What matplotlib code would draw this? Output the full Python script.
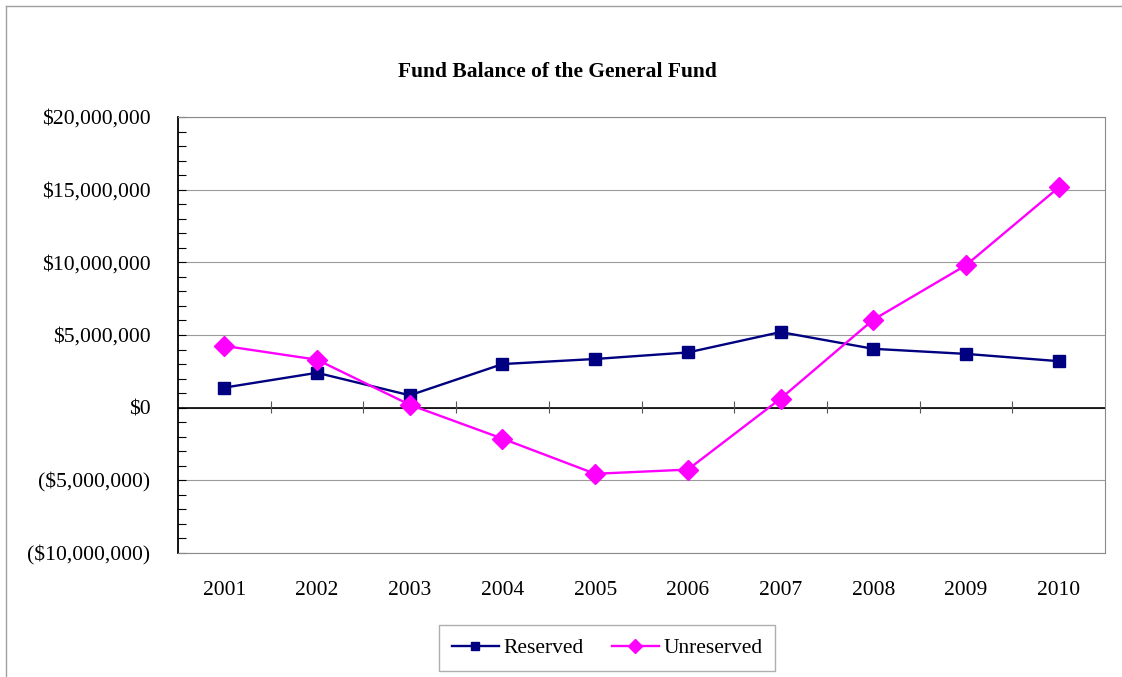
import numpy as np
import matplotlib
matplotlib.use('Agg')
from matplotlib import pyplot as plt
from matplotlib.lines import Line2D
from matplotlib.ticker import FuncFormatter, MultipleLocator

years = ['2001', '2002', '2003', '2004', '2005', '2006', '2007', '2008', '2009', '2010']
reserved = [1.38e6, 2.40e6, 0.85e6, 3.00e6, 3.35e6, 3.80e6, 5.20e6, 4.05e6, 3.70e6, 3.20e6]
unreserved = [4.25e6, 3.30e6, 0.20e6, -2.13e6, -4.55e6, -4.26e6, 0.62e6, 6.05e6, 9.80e6, 15.15e6]
y_ticks = [-10e6, -5e6, 0, 5e6, 10e6, 15e6, 20e6]

plt.rcParams['font.family'] = ['Liberation Serif', 'DejaVu Serif']

W, H = 1122, 677
fig = plt.figure(figsize=(W / 100, H / 100), dpi=100)
ax = fig.add_axes([178 / W, (H - 553) / H, (1105 - 178) / W, (553 - 117) / H])


def money(v, pos=None):
    if v < 0:
        return '(${:,.0f})'.format(-v)
    return '${:,.0f}'.format(v)


x = np.arange(len(years))
ax.plot(x, reserved, color='#000080', lw=1.7, marker='s', ms=8, label='Reserved', zorder=4)
ax.plot(x, unreserved, color='#FF00FF', lw=1.7, marker='D', ms=10, label='Unreserved', zorder=5)

ax.set_xlim(-0.5, len(years) - 0.5)
ax.set_ylim(y_ticks[0], y_ticks[-1])
ax.set_yticks(y_ticks)
ax.yaxis.set_major_formatter(FuncFormatter(money))
ax.yaxis.set_minor_locator(MultipleLocator(1e6))
ax.tick_params(axis='y', which='both', direction='in', labelsize=15.7, pad=20, length=6, width=0.8)
ax.set_xticks(x, labels=years)
ax.tick_params(axis='x', length=0, labelsize=15.5, pad=20)

ax.grid(axis='y', color='#9a9a9a', lw=0.8)
ax.set_axisbelow(True)
for s in ['top', 'right', 'bottom']:
    ax.spines[s].set_color('#8a8a8a')
ax.spines['left'].set_color('black')
ax.spines['left'].set_linewidth(1.3)

# zero line with category separators
ax.axhline(0, color='black', lw=1.2, zorder=3)
ax.vlines(x[:-1] + 0.5, -0.35e6, 0.45e6, color='#555555', lw=0.8, zorder=3)

fig.text(0.497, 1 - 72 / H, 'Fund Balance of the General Fund', ha='center', va='center',
         fontsize=15.5, fontweight='bold')

leg = ax.legend(loc='center', bbox_to_anchor=(607 / W, 1 - 648 / H), bbox_transform=fig.transFigure,
                ncol=2, fontsize=15.5, frameon=True, fancybox=False, edgecolor='#9a9a9a',
                handlelength=2.2, handletextpad=0.2, columnspacing=1.3, borderpad=0.6,
                borderaxespad=0, markerscale=0.7)
leg.get_frame().set_linewidth(1.0)

# outer chart border
fig.add_artist(Line2D([6 / W, 6 / W], [0, 1 - 6 / H], transform=fig.transFigure, color='#a0a0a0', lw=1))
fig.add_artist(Line2D([6 / W, 1], [1 - 6 / H, 1 - 6 / H], transform=fig.transFigure, color='#a0a0a0', lw=1))

fig.savefig('out.png', dpi=100)
